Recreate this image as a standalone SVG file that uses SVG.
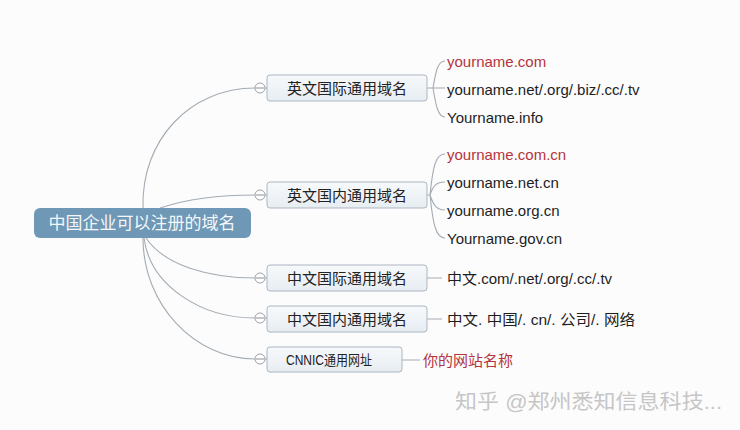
<svg xmlns="http://www.w3.org/2000/svg" width="740" height="430" viewBox="0 0 740 430">
<defs>
<linearGradient id="nodeGrad" x1="0" y1="0" x2="0" y2="1">
<stop offset="0" stop-color="#f7f9fb"/>
<stop offset="1" stop-color="#e7edf2"/>
</linearGradient>
<style>
.conn{fill:none;stroke:#a3acb3;stroke-width:1.1}
.box{fill:url(#nodeGrad);stroke:#aab6c1;stroke-width:1}
.lbl{font-family:"Liberation Sans","Noto Sans CJK SC",sans-serif;font-size:15px;fill:#222;text-anchor:middle;dominant-baseline:central}
.leaf{font-family:"Liberation Sans","Noto Sans CJK SC",sans-serif;font-size:15px;fill:#1e1e1e;dominant-baseline:central}
.red{fill:#b5343c}
.tog{fill:#fff;stroke:#9a9fa5;stroke-width:1}
.togm{stroke:#8a8f95;stroke-width:1}
</style>
</defs>
<rect width="740" height="430" fill="#fcfcfd"/>
<g id="connectors">
<path class="conn" d="M143,208 C141,140 190,88 255,88"/>
<path class="conn" d="M160,208 C187,199 215,195 255,195"/>
<path class="conn" d="M146,238 C165,266 210,278 255,278"/>
<path class="conn" d="M144,238 C150,285 200,318 255,318"/>
<path class="conn" d="M143,238 C143,305 195,359 255,359"/>
<path class="conn" d="M265,88 H267 M265,195 H267 M265,278 H267 M265,318 H267 M265,359 H267"/>
<path class="conn" d="M427,88 H433 M433,88 C436,70 438,61 445,61 M433,88 H445 M433,88 C436,106 438,117 445,117"/>
<path class="conn" d="M427,195 H430 M430,195 C433,165 436,154 445,154 M430,195 C433,186 436,182 445,182 M430,195 C433,204 436,210 445,210 M430,195 C433,225 436,238 445,238"/>
<path class="conn" d="M427,278 H442 M427,319 H442 M402,360 H420"/>
</g>
<g id="root">
<rect x="34" y="208" width="217" height="30" rx="6" fill="#6e98b6"/>
<text x="142" y="223" class="lbl" style="font-size:17px;fill:#f4f7fa">中国企业可以注册的域名</text>
</g>
<g id="node-en-intl">
<circle class="tog" cx="260" cy="88" r="5"/><path class="togm" d="M256,88 H264"/>
<rect class="box" x="267" y="75" width="160" height="26" rx="3"/>
<text x="347" y="88" class="lbl">英文国际通用域名</text>
</g>
<g id="node-en-cn">
<circle class="tog" cx="260" cy="195" r="5"/><path class="togm" d="M256,195 H264"/>
<rect class="box" x="267" y="182" width="160" height="26" rx="3"/>
<text x="347" y="195" class="lbl">英文国内通用域名</text>
</g>
<g id="node-zh-intl">
<circle class="tog" cx="260" cy="278" r="5"/><path class="togm" d="M256,278 H264"/>
<rect class="box" x="267" y="265" width="160" height="26" rx="3"/>
<text x="347" y="278" class="lbl">中文国际通用域名</text>
</g>
<g id="node-zh-cn">
<circle class="tog" cx="260" cy="318" r="5"/><path class="togm" d="M256,318 H264"/>
<rect class="box" x="267" y="306" width="160" height="26" rx="3"/>
<text x="347" y="319" class="lbl">中文国内通用域名</text>
</g>
<g id="node-cnnic">
<circle class="tog" cx="260" cy="359" r="5"/><path class="togm" d="M256,359 H264"/>
<rect class="box" x="267" y="347" width="135" height="25" rx="3"/>
<text x="329" y="360" class="lbl" style="font-size:14px" textLength="86" lengthAdjust="spacingAndGlyphs">CNNIC通用网址</text>
</g>
<g id="leaves-en-intl">
<text x="447" y="61" class="leaf red">yourname.com</text>
<text x="447" y="89" class="leaf">yourname.net/.org/.biz/.cc/.tv</text>
<text x="447" y="117" class="leaf">Yourname.info</text>
</g>
<g id="leaves-en-cn">
<text x="447" y="154" class="leaf red">yourname.com.cn</text>
<text x="447" y="182" class="leaf">yourname.net.cn</text>
<text x="447" y="210" class="leaf">yourname.org.cn</text>
<text x="447" y="238" class="leaf">Yourname.gov.cn</text>
</g>
<g id="leaf-zh-intl">
<text x="447" y="278" class="leaf">中文.com/.net/.org/.cc/.tv</text>
</g>
<g id="leaf-zh-cn">
<text x="447" y="319" class="leaf" textLength="188" lengthAdjust="spacingAndGlyphs">中文. 中国/. cn/. 公司/. 网络</text>
</g>
<g id="leaf-cnnic">
<text x="423" y="360" class="leaf red">你的网站名称</text>
</g>
<text x="455" y="402" font-family="Liberation Sans,'Noto Sans CJK SC',sans-serif" font-size="20" fill="#c6c6c6" dominant-baseline="central" textLength="267" lengthAdjust="spacingAndGlyphs">知乎 @郑州悉知信息科技...</text>
</svg>
